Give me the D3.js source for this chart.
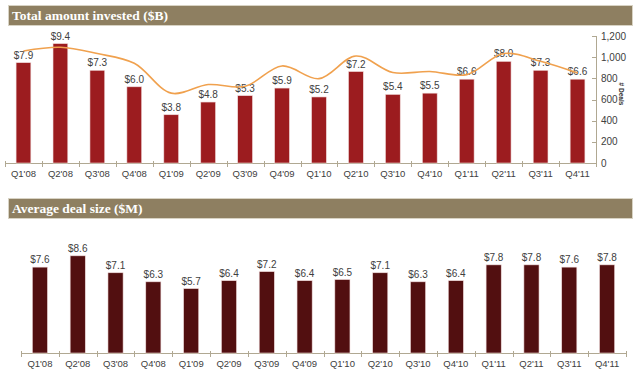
<!DOCTYPE html>
<html><head><meta charset="utf-8">
<script src="https://cdn.jsdelivr.net/npm/d3@7"></script>
<style>body{margin:0;background:#fff}svg{display:block}</style>
</head><body>
<svg id="c" width="640" height="375"></svg>
<script>
const quarters = ["Q1'08","Q2'08","Q3'08","Q4'08","Q1'09","Q2'09","Q3'09","Q4'09","Q1'10","Q2'10","Q3'10","Q4'10","Q1'11","Q2'11","Q3'11","Q4'11"];
const totalInvested = [7.9,9.4,7.3,6.0,3.8,4.8,5.3,5.9,5.2,7.2,5.4,5.5,6.6,8.0,7.3,6.6];
const dealCount = [1058,1093,1034,942,660,741,725,917,797,1011,855,865,835,1034,961,850];
const avgDealSize = [7.6,8.6,7.1,6.3,5.7,6.4,7.2,6.4,6.5,7.1,6.3,6.4,7.8,7.8,7.6,7.8];
const dealTicks = [0,200,400,600,800,1000,1200];
const titles = ["Total amount invested ($B)", "Average deal size ($M)"];

const svg = d3.select("#c");
const headerFill = "#8e7f61", axisCol = "#b0a892", textCol = "#404040";

function header(y, text){
  svg.append("rect").attr("x",8.5).attr("y",y+0.5).attr("width",624).attr("height",20)
    .attr("fill",headerFill).attr("stroke","#d8d3c4").attr("stroke-width",1);
  svg.append("text").attr("x",12).attr("y",y+15)
    .attr("font-family","'Liberation Serif', 'DejaVu Serif', serif").attr("font-weight","bold")
    .attr("font-size",13.5).attr("fill","#fff").text(text);
}

function barChart(opts){
  const x = d3.scaleBand().domain(quarters).range([opts.x0, opts.x1]).paddingInner(0.6).paddingOuter(0.3);
  const y = d3.scaleLinear().domain([0,10]).range([opts.base, opts.top]);
  const g = svg.append("g");
  // axis line + ticks
  const step = x.step();
  g.append("line").attr("x1",opts.x0).attr("x2",opts.x1).attr("y1",opts.base+0.5).attr("y2",opts.base+0.5)
    .attr("stroke",axisCol).attr("stroke-width",1);
  const bounds = d3.range(quarters.length+1).map(i=>x(quarters[0]) - x.bandwidth()*0 - (x.step()*x.paddingInner())/2 + i*step);
  g.selectAll(".tk").data(bounds).join("line")
    .attr("x1",d=>Math.round(d)+0.5).attr("x2",d=>Math.round(d)+0.5)
    .attr("y1",opts.base-2).attr("y2",opts.base+4).attr("stroke",axisCol);
  g.selectAll(".bar").data(opts.values).join("rect")
    .attr("x",(d,i)=>x(quarters[i])).attr("width",x.bandwidth())
    .attr("y",d=>y(d)).attr("height",d=>opts.base-y(d))
    .attr("fill",opts.color).attr("stroke","#f0dada").attr("stroke-width",0.6);
  g.selectAll(".vl").data(opts.values).join("text")
    .attr("x",(d,i)=>x(quarters[i])+x.bandwidth()/2).attr("y",d=>y(d)-4)
    .attr("text-anchor","middle").attr("font-family","'Liberation Sans', Arial, sans-serif")
    .attr("font-size",10).attr("fill",textCol).text(d=>"$"+d.toFixed(1));
  g.selectAll(".cl").data(quarters).join("text")
    .attr("x",d=>x(d)+x.bandwidth()/2).attr("y",opts.base+14)
    .attr("text-anchor","middle").attr("font-family","'Liberation Sans', Arial, sans-serif")
    .attr("font-size",9.5).attr("fill",textCol).text(d=>d);
  return x;
}

header(5, titles[0]);
const xTop = barChart({x0:5, x1:596, base:163, top:36, values:totalInvested, color:"#9c1c1f"});

// right axis for deals
const yDeals = d3.scaleLinear().domain([0,1200]).range([163,36]);
const ra = svg.append("g").attr("transform","translate(596,0)");
ra.append("line").attr("x1",0.5).attr("x2",0.5).attr("y1",yDeals(1200)).attr("y2",yDeals(0)).attr("stroke",axisCol);
ra.selectAll(".rt").data(dealTicks).join("line")
  .attr("x1",-4).attr("x2",1).attr("y1",d=>Math.round(yDeals(d))+0.5).attr("y2",d=>Math.round(yDeals(d))+0.5).attr("stroke",axisCol);
ra.selectAll(".rl").data(dealTicks).join("text")
  .attr("x",5).attr("y",d=>yDeals(d)+3.5).attr("font-family","'Liberation Sans', Arial, sans-serif")
  .attr("font-size",10).attr("fill",textCol).text(d=>d3.format(",")(d));
svg.append("text").attr("transform","translate(619,94) rotate(90)").attr("text-anchor","middle")
  .attr("font-family","'Liberation Sans', Arial, sans-serif").attr("font-size",6.5).attr("font-weight","bold")
  .attr("fill","#333").text("# Deals");

const line = d3.line().x((d,i)=>xTop(quarters[i])+xTop.bandwidth()/2).y(d=>yDeals(d)).curve(d3.curveCatmullRom.alpha(0.5));
svg.append("path").datum(dealCount).attr("d",line).attr("fill","none").attr("stroke","#f0a14e").attr("stroke-width",1.6);

header(198, titles[1]);
barChart({x0:21, x1:626, base:353, top:240, values:avgDealSize, color:"#520f10"});
</script>
</body></html>
